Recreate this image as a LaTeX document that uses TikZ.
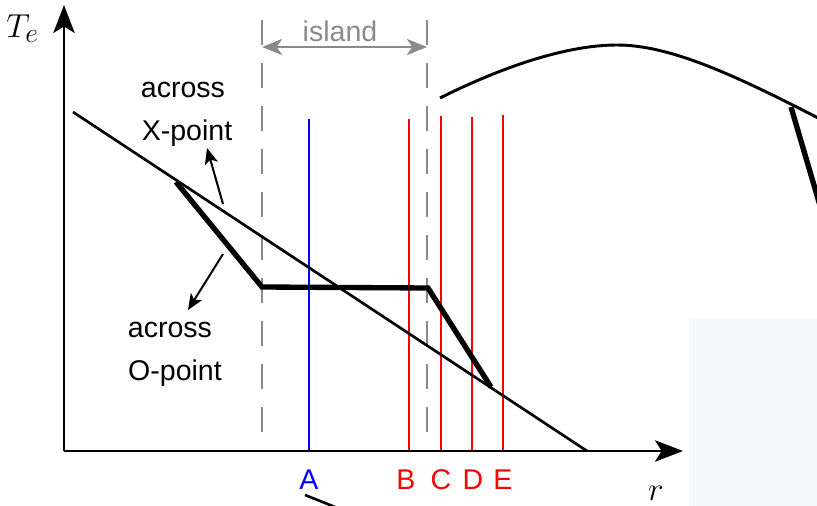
\documentclass[tikz,border=0pt]{standalone}
\usepackage{fontspec}
\setmainfont{Liberation Sans}
\usetikzlibrary{arrows.meta}
\definecolor{islandgray}{RGB}{138,138,138}
\definecolor{patchblue}{RGB}{246,250,253}
\tikzset{
  axis/.style={line width=2.2pt,-{Stealth[length=21pt,width=16pt,inset=5pt]}},
  thinline/.style={line width=2pt},
  thickline/.style={line width=4pt,line join=miter},
  redline/.style={line width=1.6pt,red},
  blueline/.style={line width=1.6pt,blue},
  dashline/.style={line width=1.8pt,islandgray,dash pattern=on 18.75pt off 13.5pt},
  pointer/.style={line width=1.5pt,-{Stealth[length=12pt,width=10pt,inset=3pt]}},
  lbl/.style={font=\fontsize{21.4}{24}\selectfont,anchor=base,inner sep=0pt},
  mathlbl/.style={font=\fontsize{28}{32}\selectfont,inner sep=0pt}
}
\begin{document}
\begin{tikzpicture}[x=0.75pt,y=-0.75pt]
\useasboundingbox (0,0) rectangle (817,506);
\begin{scope}
\clip (0,0) rectangle (817,506);
% faint patch
\fill[patchblue] (689,318) rectangle (817,506);
% axes
\coordinate (O) at (64,451);
\coordinate (ytip) at (64,5);
\coordinate (xtip) at (683,451);
\draw[axis] (O) -- (ytip);
\draw[axis] (O) -- (xtip);
\node[mathlbl,anchor=base west] (Te) at (6,38) {$T_e$};
\node[mathlbl,anchor=base] (r) at (656,500) {$r$};
% island dashed lines
\coordinate (d1t) at (262,20); \coordinate (d1b) at (262,451);
\coordinate (d2t) at (427,20); \coordinate (d2b) at (427,451);
\draw[dashline] (d1t) -- (d1b);
\draw[dashline] (d2t) -- (d2b);
\coordinate (ia) at (262,47); \coordinate (ib) at (427,47);
\draw[islandgray,line width=2.2pt,{Stealth[length=15pt,width=12pt,inset=4pt]}-{Stealth[length=15pt,width=12pt,inset=4pt]}] (ia) -- (ib);
\node[lbl,islandgray] (island) at (340,42) {island};
% vertical lines
\coordinate (At) at (309,119); \coordinate (Ab) at (309,451);
\coordinate (Bt) at (409,119); \coordinate (Bb) at (409,451);
\coordinate (Ct) at (441,116); \coordinate (Cb) at (441,451);
\coordinate (Dt) at (472,117); \coordinate (Db) at (472,451);
\coordinate (Et) at (503,115); \coordinate (Eb) at (503,451);
\draw[blueline] (At) -- (Ab);
\draw[redline] (Bt) -- (Bb);
\draw[redline] (Ct) -- (Cb);
\draw[redline] (Dt) -- (Db);
\draw[redline] (Et) -- (Eb);
\node[lbl,blue] (A) at (309,489) {A};
\node[lbl,red] (B) at (406,489) {B};
\node[lbl,red] (C) at (441,489) {C};
\node[lbl,red] (D) at (473,489) {D};
\node[lbl,red] (E) at (503,489) {E};
% re-draw x axis over lines
\draw[line width=2.2pt] (O) -- (660,451);
% descending thin line
\coordinate (l1) at (73,112); \coordinate (l2) at (587,451);
\draw[thinline] (l1) -- (l2);
% thick profile
\coordinate (p1) at (176,182); \coordinate (p2) at (262,287);
\coordinate (p3) at (428,288); \coordinate (p4) at (491,387);
\draw[thickline] (p1) -- (p2) -- (p3) -- (p4);
% labels with pointers
\node[lbl] (ac1) at (183,98) {across};
\node[lbl] (xp) at (187,141) {X-point};
\node[lbl] (ac2) at (170,337) {across};
\node[lbl] (op) at (175,380) {O-point};
\coordinate (xa1) at (223,204); \coordinate (xa2) at (207,148);
\coordinate (oa1) at (223,254); \coordinate (oa2) at (188,310);
\draw[pointer] (xa1) -- (xa2);
\draw[pointer] (oa1) -- (oa2);
% cropped fragments of neighbouring figure
\coordinate (c1) at (440,98); \coordinate (c2) at (617,45); \coordinate (c3) at (822,120);
\draw[line width=2.2pt] (c1) .. controls (500,68) and (565,45) .. (c2)
  .. controls (670,45) and (735,75) .. (c3);
\coordinate (t1) at (791,107); \coordinate (t2) at (821,209);
\draw[line width=4pt] (t1) -- (t2);
\coordinate (s1) at (305,495); \coordinate (s2) at (335,507);
\draw[line width=2pt] (s1) -- (s2);
\end{scope}
\end{tikzpicture}
\end{document}
